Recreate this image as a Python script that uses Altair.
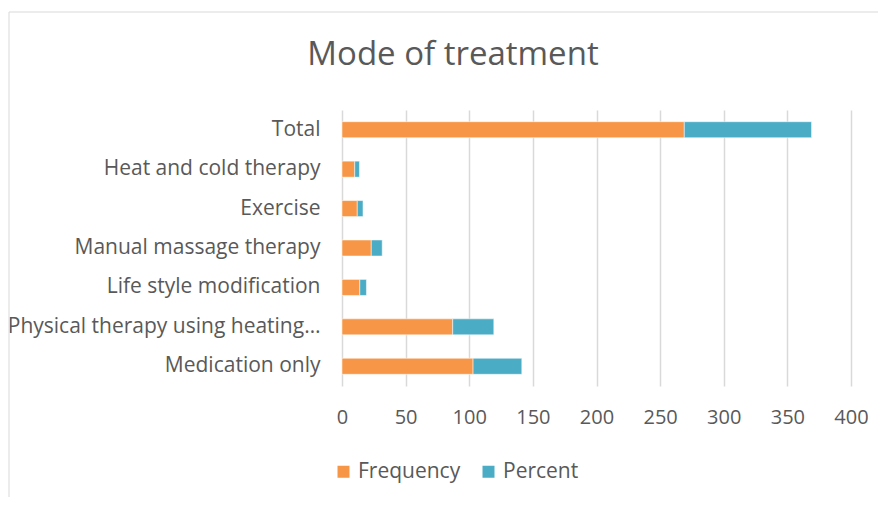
import altair as alt
import pandas as pd

categories = [
    "Total",
    "Heat and cold therapy",
    "Exercise",
    "Manual massage therapy",
    "Life style modification",
    "Physical therapy using heating…",
    "Medication only",
]
frequency = [269, 10, 12, 23, 14, 87, 103]
percent = [100, 3.7, 4.5, 8.6, 5.2, 32.3, 38.3]
series = ["Frequency", "Percent"]
colors = ["#F79646", "#4BACC6"]
ticks = [0, 50, 100, 150, 200, 250, 300, 350, 400]
title_text = "Mode of treatment"

rows = []
for c, f, p in zip(categories, frequency, percent):
    rows.append({"category": c, "series": "Frequency", "value": f, "ord": 0})
    rows.append({"category": c, "series": "Percent", "value": p, "ord": 1})
df = pd.DataFrame(rows)

FONT = "Open Sans"
TXT = "#595959"
W, H = 509, 276

one = pd.DataFrame({"a": [0]})

frame = alt.Chart(one).mark_rect(
    fillOpacity=0, stroke="#d9d9d9", strokeWidth=1
).encode(
    x=alt.value(-333), x2=alt.value(W + 100),
    y=alt.value(-98), y2=alt.value(H + 200),
)

title = alt.Chart(one).mark_text(
    text=title_text, font=FONT, fontSize=33, color=TXT, align="center", baseline="middle"
).encode(x=alt.value(111), y=alt.value(-55))

bars = alt.Chart(df).mark_bar(size=16, stroke="white", strokeWidth=0.5).encode(
    y=alt.Y(
        "category:N", sort=categories,
        scale=alt.Scale(paddingInner=0.59, paddingOuter=0.295),
        axis=alt.Axis(title=None, labelFontSize=21, labelColor=TXT, labelPadding=22,
                      ticks=False, domain=False, labelFont=FONT, grid=False, labelLimit=400),
    ),
    x=alt.X(
        "value:Q", stack="zero", scale=alt.Scale(domain=[0, 400], nice=False),
        axis=alt.Axis(values=ticks, title=None, grid=True, gridColor="#d9d9d9", gridWidth=1.5,
                      domain=False, ticks=False, labelFontSize=20, labelColor=TXT,
                      labelPadding=21, labelFont=FONT, labelFlush=False),
    ),
    color=alt.Color(
        "series:N", scale=alt.Scale(domain=series, range=colors),
        legend=alt.Legend(title=None, orient="none", legendX=-9, legendY=351,
                          direction="horizontal", symbolType="square", symbolSize=144,
                          symbolStrokeWidth=0, labelFontSize=21, labelColor=TXT, labelFont=FONT,
                          columnPadding=17, padding=0, labelOffset=4),
    ),
    order=alt.Order("ord:Q"),
)

chart = alt.layer(frame, title, bars).properties(
    width=W, height=H,
    background="white",
    autosize=alt.AutoSizeParams(type="none"),
    padding={"left": 334, "top": 102, "right": 27, "bottom": 111},
).configure_view(stroke=None)

chart.save("out.html", embed_options={"renderer": "svg", "actions": False})
